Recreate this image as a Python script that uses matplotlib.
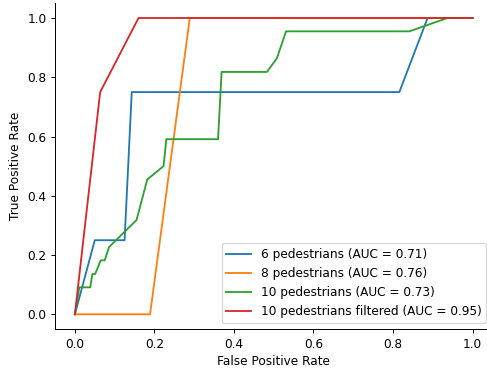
import matplotlib
matplotlib.use("Agg")
import matplotlib.pyplot as plt

labels = ["6 pedestrians (AUC = 0.71)", "8 pedestrians (AUC = 0.76)",
          "10 pedestrians (AUC = 0.73)", "10 pedestrians filtered (AUC = 0.95)"]

fpr_6 = [0.0, 0.05, 0.125, 0.143, 0.816, 0.887, 1.0]
tpr_6 = [0.0, 0.25, 0.25, 0.75, 0.75, 1.0, 1.0]

fpr_8 = [0.0, 0.189, 0.289, 1.0]
tpr_8 = [0.0, 0.0, 1.0, 1.0]

fpr_10 = [0.0, 0.011, 0.0385, 0.044, 0.051, 0.065, 0.075, 0.086, 0.155, 0.182,
          0.223, 0.23, 0.36, 0.369, 0.483, 0.508, 0.531, 0.841, 0.937, 1.0]
tpr_10 = [0.0, 0.0909, 0.0909, 0.136, 0.136, 0.182, 0.182, 0.227, 0.318, 0.455,
          0.5, 0.591, 0.591, 0.818, 0.818, 0.864, 0.955, 0.955, 1.0, 1.0]

fpr_10f = [0.0, 0.0636, 0.16, 1.0]
tpr_10f = [0.0, 0.75, 1.0, 1.0]

DPI = 87.7
fig = plt.figure(figsize=(487 / DPI, 369 / DPI), dpi=DPI)
ax = fig.add_axes([55 / 487, (369 - 329.1) / 369, 437.4 / 487, 325.9 / 369])
ax.plot(fpr_6, tpr_6, label=labels[0])
ax.plot(fpr_8, tpr_8, label=labels[1])
ax.plot(fpr_10, tpr_10, label=labels[2])
ax.plot(fpr_10f, tpr_10f, label=labels[3])
ax.set_xlabel("False Positive Rate")
ax.set_ylabel("True Positive Rate")
ax.spines["top"].set_visible(False)
ax.spines["right"].set_visible(False)
ax.legend(loc="lower right")
fig.savefig("out.png", dpi=DPI)
